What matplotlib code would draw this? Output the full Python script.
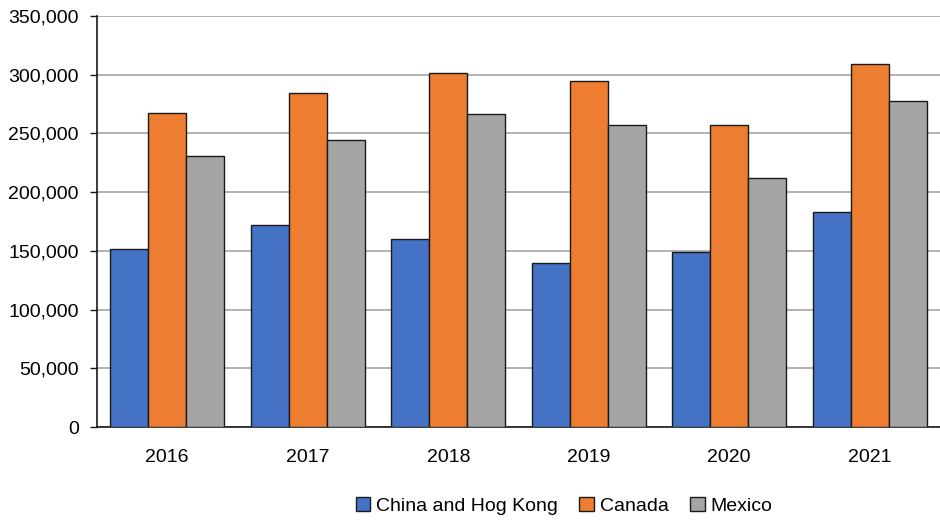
import matplotlib
matplotlib.use("Agg")
import matplotlib.pyplot as plt
import numpy as np
from matplotlib.ticker import FuncFormatter, MultipleLocator

years = ["2016", "2017", "2018", "2019", "2020", "2021"]
china_hk = [152000, 172400, 160500, 140000, 149400, 182700]
canada = [267200, 284300, 301300, 294500, 257000, 309000]
mexico = [230500, 244100, 266300, 257000, 211700, 277400]
series_names = ["China and Hog Kong", "Canada", "Mexico"]
colors = ["#4472C4", "#ED7D31", "#A5A5A5"]

plt.rcParams["font.family"] = ["Liberation Sans", "DejaVu Sans"]

fig = plt.figure(figsize=(9.4, 5.2), dpi=100)
ax = fig.add_axes([97/940, 1-427/520, (940-97)/940, (427-16)/520])

x = np.arange(len(years))
w = 0.27
for i, (vals, name, c) in enumerate(zip([china_hk, canada, mexico], series_names, colors)):
    ax.bar(x + (i-1)*w, vals, width=w, color=c, edgecolor="#1a1a1a", linewidth=1.0,
           label=name, zorder=3)

ax.set_xlim(-0.5, len(years)-0.5)
ax.set_ylim(0, 350000)
ax.yaxis.set_major_locator(MultipleLocator(50000))
ax.yaxis.set_major_formatter(FuncFormatter(lambda v, p: f"{int(v):,}"))
ax.set_xticks(x)
ax.set_xticklabels(years)
ax.grid(axis="y", color="#a6a6a6", linewidth=1.2, zorder=0)
for s in ["top", "right"]:
    ax.spines[s].set_visible(False)
ax.spines["left"].set_color("#1a1a1a")
ax.spines["bottom"].set_color("#1a1a1a")
ax.spines["left"].set_linewidth(1.2)
ax.spines["bottom"].set_linewidth(1.2)
ax.tick_params(axis="y", length=5, width=1.0, color="#1a1a1a", labelsize=14, pad=8)
ax.tick_params(axis="x", length=0, labelsize=14, pad=16)

leg = fig.legend(loc="center", bbox_to_anchor=(564/940, 1-506/520), ncol=3, frameon=False,
                 fontsize=14, handlelength=0.75, handleheight=0.75, handletextpad=0.3,
                 columnspacing=1.1)

fig.savefig("out.png", dpi=100)
